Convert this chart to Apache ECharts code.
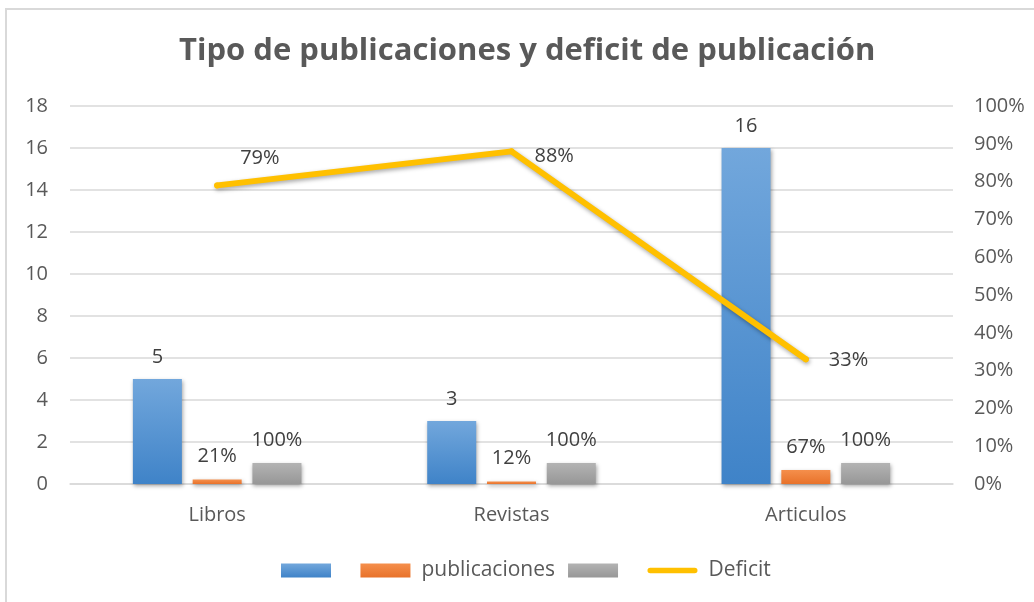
<!DOCTYPE html>
<html>
<head>
<meta charset="utf-8">
<script src="https://cdn.jsdelivr.net/npm/echarts@6/dist/echarts.min.js"></script>
<style>
html,body{margin:0;padding:0;background:#fff;}
#frame{position:absolute;left:5px;top:8px;width:1040px;height:600px;border-left:2px solid #D9D9D9;border-top:2px solid #D9D9D9;}
#chart{position:absolute;left:0;top:0;width:1034px;height:602px;}
</style>
</head>
<body>
<div id="frame"></div>
<div id="chart"></div>
<script>
// datos del grafico
var categorias = ['Libros', 'Revistas', 'Articulos'];
var totales = [5, 3, 16];
var publicaciones = [0.21, 0.12, 0.67];
var completo = [1, 1, 1];
var deficit = [0.79, 0.88, 0.33];

var fuente = '"Open Sans", "Noto Sans", sans-serif';

function grad(a, b){
	return new echarts.graphic.LinearGradient(0, 0, 0, 1, [
		{offset: 0, color: a},
		{offset: 1, color: b}
	]);
}
function pct(v){
	return Math.round(v * 100) + '%';
}

var myChart = echarts.init(document.getElementById('chart'));

// etiquetas de la linea: ajuste fino de posicion
var desplaz = [[0, -27], [0, 5], [0, 1]];
var deficitData = [];
for(var i = 0; i < deficit.length; i++){
	deficitData.push({value: deficit[i], label: {offset: desplaz[i]}});
}

var sombra = {shadowBlur: 4, shadowColor: 'rgba(0,0,0,0.35)', shadowOffsetY: 2, shadowOffsetX: 1};

var option = {
	animation: false,
	title: {
		text: 'Tipo de publicaciones y deficit de publicación',
		left: 174,
		top: 31,
		textStyle: {fontFamily: fuente, fontSize: 31, fontWeight: 'bold', color: '#595959'}
	},
	legend: {
		left: 276,
		top: 555,
		itemWidth: 50,
		itemHeight: 14,
		itemGap: 13,
		textStyle: {fontFamily: fuente, fontSize: 21, color: '#595959', padding: [0, 0, 0, 6]},
		data: [
			{name: ' ', icon: 'rect'},
			{name: 'publicaciones', icon: 'rect'},
			{name: '\u00a0', icon: 'rect'},
			{name: 'Deficit', icon: 'path://M3,0 L52,0 A3,3 0 0 1 52,6 L3,6 A3,3 0 0 1 3,0 Z'}
		]
	},
	grid: {left: 70, right: 81, top: 106, bottom: 118, containLabel: false},
	xAxis: {
		type: 'category',
		data: categorias,
		axisLine: {lineStyle: {color: '#D9D9D9', width: 1.5}},
		axisTick: {show: false},
		axisLabel: {fontFamily: fuente, fontSize: 20, color: '#595959', margin: 21}
	},
	yAxis: [
		{
			type: 'value',
			min: 0, max: 18, interval: 2,
			axisLine: {show: false},
			axisTick: {show: false},
			splitLine: {lineStyle: {color: '#D9D9D9', width: 1.5}},
			axisLabel: {fontFamily: fuente, fontSize: 20, color: '#595959', margin: 22}
		},
		{
			type: 'value',
			min: 0, max: 1, interval: 0.1,
			axisLine: {show: false},
			axisTick: {show: false},
			splitLine: {show: false},
			axisLabel: {fontFamily: fuente, fontSize: 20, color: '#595959', margin: 21, formatter: function(v){ return pct(v); }}
		}
	],
	series: [
		{
			name: ' ',
			type: 'bar',
			data: totales,
			barWidth: 49,
			barGap: '22%',
			itemStyle: Object.assign({color: grad('#72A7DC', '#3F83C8')}, sombra),
			label: {show: true, position: 'top', distance: 12, fontFamily: fuente, fontSize: 20, color: '#404040'}
		},
		{
			name: 'publicaciones',
			type: 'bar',
			data: publicaciones,
			barWidth: 49,
			barGap: '22%',
			itemStyle: Object.assign({color: grad('#F58F4C', '#E8722A')}, sombra),
			label: {show: true, position: 'top', distance: 13, fontFamily: fuente, fontSize: 20, color: '#404040', formatter: function(p){ return pct(p.value); }}
		},
		{
			name: '\u00a0',
			type: 'bar',
			data: completo,
			barWidth: 49,
			barGap: '22%',
			itemStyle: Object.assign({color: grad('#B3B3B3', '#979797')}, sombra),
			label: {show: true, position: 'top', distance: 13, fontFamily: fuente, fontSize: 20, color: '#404040', formatter: function(p){ return pct(p.value); }}
		},
		{
			name: 'Deficit',
			type: 'line',
			yAxisIndex: 1,
			data: deficitData,
			symbol: 'circle',
			symbolSize: 6,
			lineStyle: Object.assign({color: '#FFC000', width: 6, cap: 'round', join: 'round'}, sombra),
			itemStyle: {color: '#FFC000'},
			label: {show: true, position: 'right', distance: 20, fontFamily: fuente, fontSize: 20, color: '#404040', formatter: function(p){ return pct(p.value); }},
			z: 5
		}
	]
};

myChart.setOption(option);
</script>
</body>
</html>
